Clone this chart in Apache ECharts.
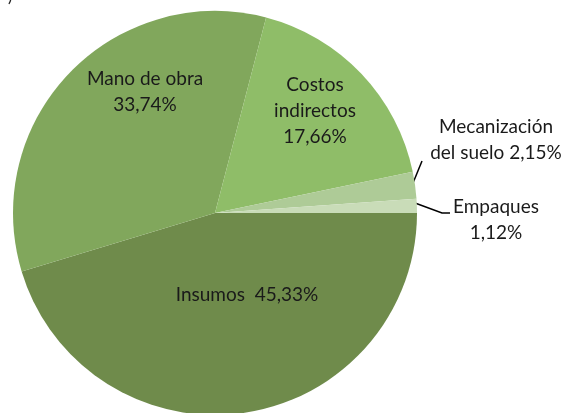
<!DOCTYPE html>
<html lang="es">
  <head>
    <meta charset="UTF-8" />
    <title>Costos</title>
    <script src="https://cdn.jsdelivr.net/npm/echarts@6/dist/echarts.min.js"></script>
    <style>
      html, body { margin: 0; padding: 0; background: #fff; }
      #chart { width: 566px; height: 413px; }
    </style>
  </head>
  <body>
    <div id="chart"></div>
    <script>
      // datos (porcentajes)
      var names = ['Insumos', 'Mano de obra', 'Costos\nindirectos', 'Mecanización\ndel suelo', 'Empaques'];
      var values = [45.33, 33.74, 17.66, 2.15, 1.12];
      var seps = ['  ', '\n', '\n', ' ', '\n'];
      var colors = ['#6f8b4b', '#81a75c', '#8fbd68', '#aecb97', '#c9dcb8'];

      // posiciones de las etiquetas
      var labelPos = [[247, 295], [145, 92], [315, 111], [496, 140], [496, 220]];
      var linePts = [null, null, null,
        [[413, 183], [422, 161], [422, 161]],
        [[415, 203], [442, 213], [450, 213]]];

      var chart = echarts.init(document.getElementById('chart'));

      var data = names.map(function (n, i) {
        return {
          name: n,
          value: values[i],
          itemStyle: { color: colors[i] },
          labelLine: { show: !!linePts[i] }
        };
      });

      var option = {
        animation: false,
        graphic: [{
          type: 'text', left: 8, top: -11,
          style: { text: ')', font: '16px Lato', fill: '#222' }
        }],
        series: [{
          type: 'pie',
          center: [215, 213],
          radius: 202,
          startAngle: 0,
          clockwise: true,
          data: data,
          itemStyle: { borderWidth: 0 },
          label: {
            show: true,
            position: 'outside',
            overflow: 'none',
            color: '#1a1a1a',
            fontFamily: 'Lato',
            fontSize: 19,
            lineHeight: 26,
            formatter: function (p) {
              return p.name + seps[p.dataIndex] + p.value.toFixed(2).replace('.', ',') + '%';
            }
          },
          labelLine: { lineStyle: { color: '#000', width: 1.5 } },
          labelLayout: function (p) {
            var i = p.dataIndex;
            var r = { x: labelPos[i][0], y: labelPos[i][1], align: 'center', verticalAlign: 'middle' };
            if (linePts[i]) r.labelLinePoints = linePts[i];
            return r;
          }
        }]
      };
      chart.setOption(option);
    </script>
  </body>
</html>
